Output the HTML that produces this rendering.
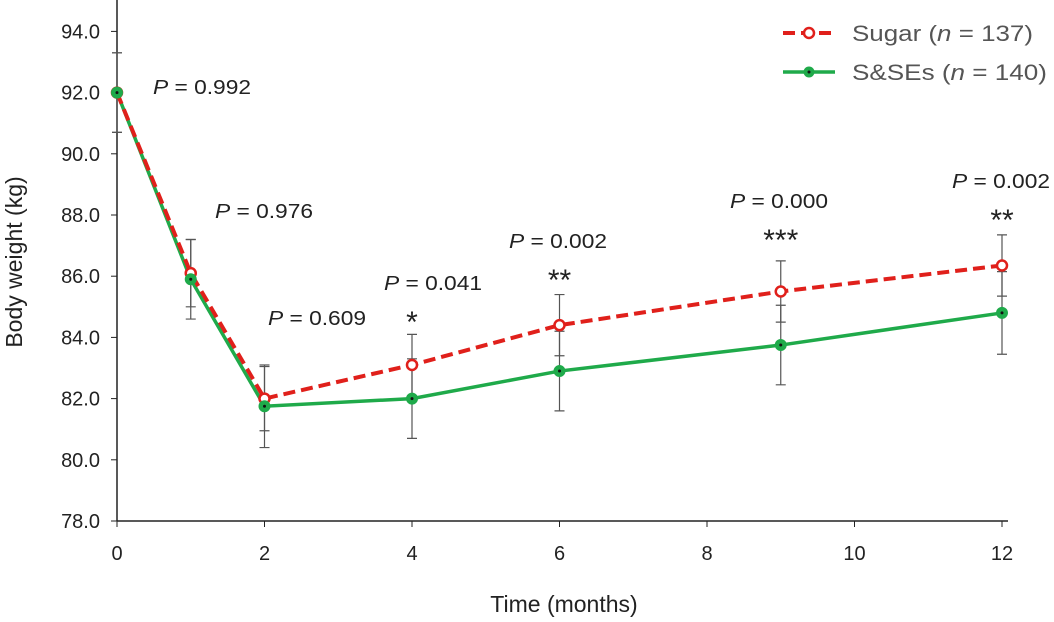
<!DOCTYPE html>
<html><head><meta charset="utf-8"><style>
body{margin:0;background:#fff;font-family:"Liberation Sans",sans-serif}
svg text{font-family:"Liberation Sans",sans-serif;fill:#222}
</style></head><body>
<svg id="c" width="1054" height="617"></svg>
<script>
const months=[0,1,2,4,6,9,12];
const sugar=[92.0,86.1,82.0,83.1,84.4,85.5,86.35];
const sugarErr=[1.3,1.1,1.05,1.0,1.0,1.0,1.0];
const sses=[92.0,85.9,81.75,82.0,82.9,83.75,84.8];
const ssesErr=[1.3,1.3,1.35,1.3,1.3,1.3,1.35];
const pLabels=["0.992","0.976","0.609","0.041","0.002","0.000","0.002"];
const stars=["","","","*","**","***","**"];
const yTicks=[78,80,82,84,86,88,90,92,94];
const xTicks=[0,2,4,6,8,10,12];
const NS="http://www.w3.org/2000/svg",svg=document.getElementById('c');
const X=m=>117+m*73.75, Y=v=>521-(v-78)*30.6;
function mk(t,a,txt){const e=document.createElementNS(NS,t);for(const k in a)e.setAttribute(k,a[k]);if(txt!==undefined)e.textContent=txt;svg.appendChild(e);return e;}
let e=mk('line',{x1:117,y1:0,x2:117,y2:521,stroke:'#222','stroke-width':1.5});

e=mk('line',{x1:117,y1:521,x2:1008,y2:521,stroke:'#222','stroke-width':1.5});

yTicks.forEach(v=>{mk('line',{x1:111,x2:117,y1:Y(v),y2:Y(v),stroke:'#222'});
e=mk('text',{x:100,y:Y(v)+7,'text-anchor':'end','font-size':20},v.toFixed(1));
});
xTicks.forEach(m=>{mk('line',{x1:X(m),x2:X(m),y1:521,y2:527,stroke:'#222'});
e=mk('text',{x:X(m),y:560,'text-anchor':'middle','font-size':20},m);
});
e=mk('text',{x:564,y:612,'text-anchor':'middle','font-size':23},'Time (months)');

e=mk('text',{x:22,y:262,'text-anchor':'middle','font-size':23,transform:'rotate(-90 22 262)'},'Body weight (kg)');

function errs(vals,er,name){vals.forEach((v,i)=>{const x=X(months[i]);
e=mk('path',{d:`M${x},${Y(v+er[i])}V${Y(v-er[i])}M${x-5},${Y(v+er[i])}h10M${x-5},${Y(v-er[i])}h10`,stroke:'#555','stroke-width':1.2,fill:'none'});
});}
errs(sugar,sugarErr,'sugar');errs(sses,ssesErr,'sses');
e=mk('polyline',{points:sses.map((v,i)=>X(months[i])+','+Y(v)).join(' '),fill:'none',stroke:'#1faa4a','stroke-width':3.5});

e=mk('polyline',{points:sugar.map((v,i)=>X(months[i])+','+Y(v)).join(' '),fill:'none',stroke:'#e0201b','stroke-width':4,'stroke-dasharray':'12 6'});

sugar.forEach((v,i)=>{e=mk('circle',{cx:X(months[i]),cy:Y(v),r:5,fill:'#fff',stroke:'#e0201b','stroke-width':2.5});
});
sses.forEach((v,i)=>{e=mk('circle',{cx:X(months[i]),cy:Y(v),r:5.5,fill:'#1faa4a',stroke:'#1faa4a'});

mk('circle',{cx:X(months[i]),cy:Y(v),r:1.5,fill:'#111'});});
const pPos=[[153,94],[215,218],[268,325],[384,290],[509,248],[730,208],[952,188]];
pLabels.forEach((p,i)=>{const t=mk('text',{x:pPos[i][0],y:pPos[i][1],'font-size':20,textLength:98,lengthAdjust:'spacingAndGlyphs'});
t.innerHTML='<tspan font-style="italic">P</tspan> = '+p;

if(stars[i]){e=mk('text',{x:X(months[i]),y:pPos[i][1]+42,'text-anchor':'middle','font-size':30},stars[i]);
}});
e=mk('line',{x1:783,x2:835,y1:33,y2:33,stroke:'#e0201b','stroke-width':4,'stroke-dasharray':'12 6'});

mk('circle',{cx:809,cy:33,r:5,fill:'#fff',stroke:'#e0201b','stroke-width':2.5});
e=mk('text',{x:852,y:41,'font-size':22,style:'fill:#555',textLength:181,lengthAdjust:'spacingAndGlyphs'});e.innerHTML='Sugar (<tspan font-style="italic">n</tspan> = 137)';

e=mk('line',{x1:783,x2:835,y1:72,y2:72,stroke:'#1faa4a','stroke-width':3.5});

mk('circle',{cx:809,cy:72,r:5.5,fill:'#1faa4a'});mk('circle',{cx:809,cy:72,r:1.5,fill:'#111'});
e=mk('text',{x:852,y:80,'font-size':22,style:'fill:#555',textLength:195,lengthAdjust:'spacingAndGlyphs'});e.innerHTML='S&amp;SEs (<tspan font-style="italic">n</tspan> = 140)';

</script></body></html>
